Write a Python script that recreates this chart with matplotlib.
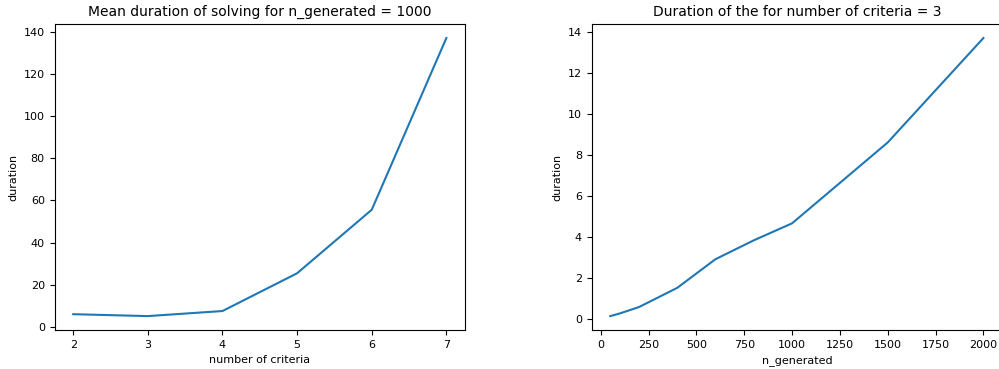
import matplotlib
matplotlib.use("Agg")
import matplotlib.pyplot as plt

# mean duration vs number of criteria (n_generated = 1000)
n_criteria = [2, 3, 4, 5, 6, 7]
duration_criteria = [6.1, 5.2, 7.6, 25.5, 55.6, 137.0]

# duration vs n_generated (criteria = 3)
n_generated = [50, 100, 200, 400, 600, 800, 1000, 1500, 2000]
duration_generated = [0.12, 0.25, 0.56, 1.5, 2.9, 3.82, 4.65, 8.6, 13.7]

fig = plt.figure(figsize=(9.99, 3.69), dpi=100)
ax1 = fig.add_axes([0.0546, 0.1057, 0.4109, 0.829])
ax2 = fig.add_axes([0.5922, 0.1057, 0.4109, 0.829])

ax1.plot(n_criteria, duration_criteria)
ax1.set_title("Mean duration of solving for n_generated = 1000", fontsize=10)
ax1.set_xlabel("number of criteria", fontsize=8)
ax1.set_ylabel("duration", fontsize=8)
ax1.tick_params(labelsize=8)

ax2.plot(n_generated, duration_generated)
ax2.set_title("Duration of the for number of criteria = 3", fontsize=10)
ax2.set_xlabel("n_generated", fontsize=8)
ax2.set_ylabel("duration", fontsize=8)
ax2.set_xticks([0, 250, 500, 750, 1000, 1250, 1500, 1750, 2000])
ax2.tick_params(labelsize=8)

fig.savefig("out.png", dpi=100)
